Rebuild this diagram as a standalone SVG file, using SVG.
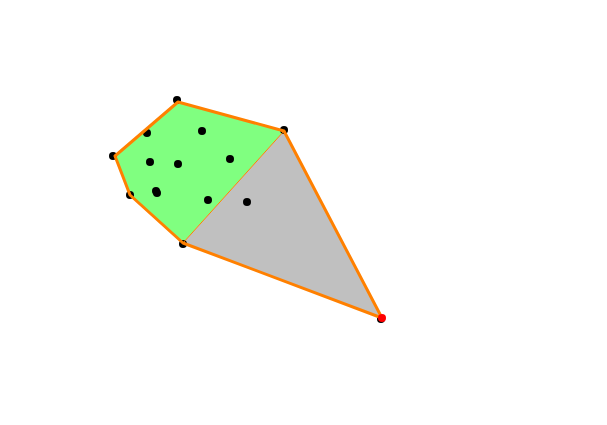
<svg xmlns="http://www.w3.org/2000/svg" width="607" height="425" viewBox="0 0 607 425">
<style>
.pt{fill:#000}
.hull{fill:none;stroke:#ff8000;stroke-width:3;stroke-linejoin:round}
</style>
<rect width="607" height="425" fill="#fff"/>
<g id="regions">
<polygon id="green" points="178,102 284,131 183,243 130,195 115,156" fill="#80ff80"/>
<polygon id="gray" points="284,131 382,318 183,243" fill="#c0c0c0"/>
</g>
<g id="points">
<circle class="pt" cx="177" cy="100" r="4"/>
<circle class="pt" cx="284" cy="130" r="4"/>
<circle class="pt" cx="113" cy="156" r="4"/>
<circle class="pt" cx="130" cy="195" r="4"/>
<circle class="pt" cx="183" cy="244" r="4"/>
<circle class="pt" cx="381" cy="319" r="4"/>
<circle class="pt" cx="147" cy="133" r="4"/>
<circle class="pt" cx="202" cy="131" r="4"/>
<circle class="pt" cx="150" cy="162" r="4"/>
<circle class="pt" cx="178" cy="164" r="4"/>
<circle class="pt" cx="230" cy="159" r="4"/>
<circle class="pt" cx="156" cy="191" r="4"/>
<circle class="pt" cx="157" cy="193" r="4"/>
<circle class="pt" cx="208" cy="200" r="4"/>
<circle class="pt" cx="247" cy="202" r="4"/>
</g>
<g id="connectors">
<line x1="284" y1="131" x2="183" y2="243" stroke="#ff8000" stroke-width="1"/>
<polygon class="hull" points="178,102 284,131 382,318 183,243 130,195 115,156"/>
</g>
<g id="red">
<circle cx="382" cy="318" r="4" fill="#ff0000"/>
</g>
</svg>
